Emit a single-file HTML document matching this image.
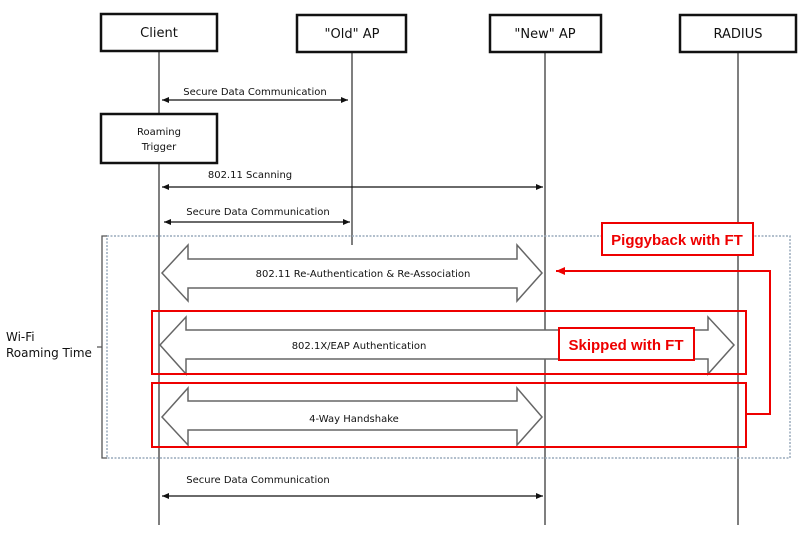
<!DOCTYPE html>
<html><head><style>
body{margin:0;background:#fff;width:805px;height:538px;overflow:hidden}
svg text{font-family:"DejaVu Sans","Liberation Sans",sans-serif}
svg text.rt{font-family:"Liberation Sans",sans-serif;font-size:15px;font-weight:bold;fill:#e00}
</style></head><body>
<svg width="805" height="538" viewBox="0 0 805 538">
<defs>
<marker id="a" markerWidth="8" markerHeight="8" refX="7" refY="4" orient="auto-start-reverse" markerUnits="userSpaceOnUse"><path d="M0,1 L7,4 L0,7 z" fill="#111"/></marker>
<marker id="r" markerWidth="10" markerHeight="10" refX="9" refY="5" orient="auto" markerUnits="userSpaceOnUse"><path d="M0,1 L9,5 L0,9 z" fill="#e00"/></marker>
</defs>
<g stroke="#555" stroke-width="1.5">
<line x1="159" y1="50" x2="159" y2="525"/>
<line x1="352" y1="51" x2="352" y2="245"/>
<line x1="545" y1="51" x2="545" y2="525"/>
<line x1="738" y1="51" x2="738" y2="525"/>
</g>
<g fill="#fff" stroke="#111" stroke-width="2.5">
<rect x="101" y="14" width="116" height="37"/>
<rect x="297" y="15" width="109" height="37"/>
<rect x="490" y="15" width="111" height="37"/>
<rect x="680" y="15" width="116" height="37"/>
<rect x="101" y="114" width="116" height="49"/>
</g>
<g font-size="13" text-anchor="middle" fill="#111">
<text x="159" y="37">Client</text>
<text x="352" y="38">"Old" AP</text>
<text x="545" y="38">"New" AP</text>
<text x="738" y="38">RADIUS</text>
</g>
<g font-size="10" text-anchor="middle" fill="#111">
<text x="159" y="135">Roaming</text>
<text x="159" y="150">Trigger</text>
<text x="255" y="95">Secure Data Communication</text>
<text x="250" y="178">802.11 Scanning</text>
<text x="258" y="215">Secure Data Communication</text>
<text x="258" y="483">Secure Data Communication</text>
</g>
<g stroke="#111" stroke-width="1.3" marker-start="url(#a)" marker-end="url(#a)">
<line x1="162" y1="100" x2="348" y2="100"/>
<line x1="162" y1="187" x2="543" y2="187"/>
<line x1="164" y1="222" x2="350" y2="222"/>
<line x1="162" y1="496" x2="543" y2="496"/>
</g>
<rect x="107" y="236" width="683" height="222" fill="none" stroke="#9ab" stroke-width="1.5" stroke-dasharray="2,1.5"/>
<path d="M107,236 H102 V458 H107 M102,347 H97" fill="none" stroke="#555" stroke-width="1.3"/>
<text x="6" y="341" font-size="12" fill="#111">Wi-Fi</text>
<text x="6" y="357" font-size="12" fill="#111">Roaming Time</text>
<g fill="#fff" stroke="#666" stroke-width="1.5">
<path d="M162,273 L188,245 V259 H517 V245 L542,273 L517,301 V288 H188 V301 Z"/>
<path d="M160,345 L186,317 V330 H708 V317 L734,345 L708,374 V359 H186 V374 Z"/>
<path d="M162,417 L188,388 V401 H517 V388 L542,417 L517,445 V430 H188 V445 Z"/>
</g>
<g font-size="10" text-anchor="middle" fill="#111">
<text x="363" y="277">802.11 Re-Authentication &amp; Re-Association</text>
<text x="359" y="349">802.1X/EAP Authentication</text>
<text x="354" y="422">4-Way Handshake</text>
</g>
<g fill="none" stroke="#e00" stroke-width="2">
<rect x="152" y="311" width="594" height="63"/>
<rect x="152" y="383" width="594" height="64"/>
<path d="M746,414 H770 V271 H556" marker-end="url(#r)"/>
</g>
<rect x="602" y="223" width="151" height="32" fill="#fff" stroke="#e00" stroke-width="2"/>
<rect x="559" y="328" width="135" height="32" fill="#fff" stroke="#e00" stroke-width="2"/>
<text class="rt" x="677" y="245" text-anchor="middle">Piggyback with FT</text>
<text class="rt" x="626" y="350" text-anchor="middle">Skipped with FT</text>
</svg>
</body></html>
